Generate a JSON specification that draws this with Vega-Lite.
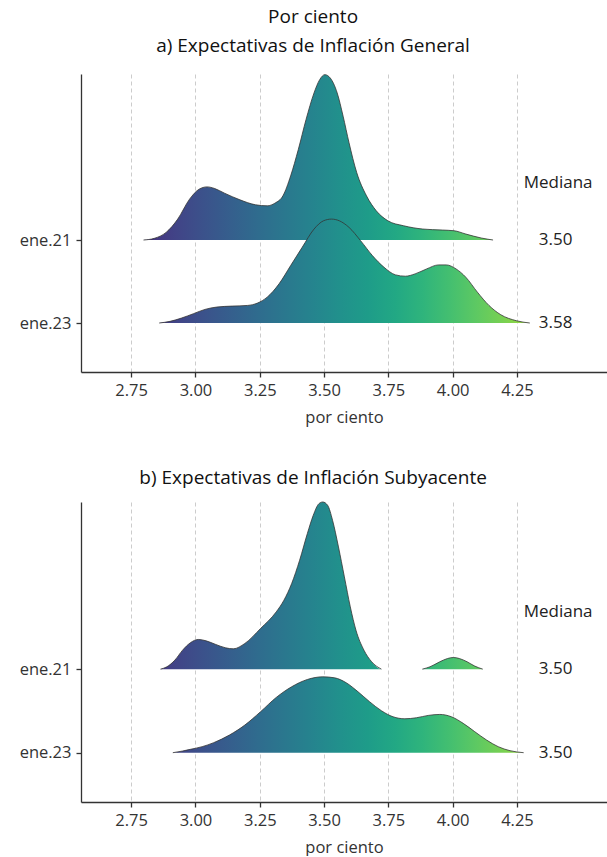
{
  "$schema": "https://vega.github.io/schema/vega-lite/v6.json",
  "background": "white",
  "padding": {"left": 19, "top": 8, "right": 0, "bottom": 0},
  "datasets": {
    "dens": [
      {"panel":"a","serie":"ene.21","tramo":1,"x":2.798,"h":0},
      {"panel":"a","serie":"ene.21","tramo":1,"x":2.840,"h":0.02},
      {"panel":"a","serie":"ene.21","tramo":1,"x":2.886,"h":0.092},
      {"panel":"a","serie":"ene.21","tramo":1,"x":2.931,"h":0.252},
      {"panel":"a","serie":"ene.21","tramo":1,"x":2.977,"h":0.492},
      {"panel":"a","serie":"ene.21","tramo":1,"x":3.014,"h":0.612},
      {"panel":"a","serie":"ene.21","tramo":1,"x":3.045,"h":0.64},
      {"panel":"a","serie":"ene.21","tramo":1,"x":3.075,"h":0.62},
      {"panel":"a","serie":"ene.21","tramo":1,"x":3.113,"h":0.564},
      {"panel":"a","serie":"ene.21","tramo":1,"x":3.173,"h":0.484},
      {"panel":"a","serie":"ene.21","tramo":1,"x":3.234,"h":0.424},
      {"panel":"a","serie":"ene.21","tramo":1,"x":3.279,"h":0.412},
      {"panel":"a","serie":"ene.21","tramo":1,"x":3.309,"h":0.444},
      {"panel":"a","serie":"ene.21","tramo":1,"x":3.340,"h":0.532},
      {"panel":"a","serie":"ene.21","tramo":1,"x":3.370,"h":0.772},
      {"panel":"a","serie":"ene.21","tramo":1,"x":3.400,"h":1.092},
      {"panel":"a","serie":"ene.21","tramo":1,"x":3.430,"h":1.452},
      {"panel":"a","serie":"ene.21","tramo":1,"x":3.461,"h":1.772},
      {"panel":"a","serie":"ene.21","tramo":1,"x":3.483,"h":1.932},
      {"panel":"a","serie":"ene.21","tramo":1,"x":3.503,"h":1.992},
      {"panel":"a","serie":"ene.21","tramo":1,"x":3.524,"h":1.952},
      {"panel":"a","serie":"ene.21","tramo":1,"x":3.551,"h":1.772},
      {"panel":"a","serie":"ene.21","tramo":1,"x":3.574,"h":1.492},
      {"panel":"a","serie":"ene.21","tramo":1,"x":3.597,"h":1.172},
      {"panel":"a","serie":"ene.21","tramo":1,"x":3.627,"h":0.812},
      {"panel":"a","serie":"ene.21","tramo":1,"x":3.665,"h":0.532},
      {"panel":"a","serie":"ene.21","tramo":1,"x":3.703,"h":0.352},
      {"panel":"a","serie":"ene.21","tramo":1,"x":3.748,"h":0.232},
      {"panel":"a","serie":"ene.21","tramo":1,"x":3.809,"h":0.172},
      {"panel":"a","serie":"ene.21","tramo":1,"x":3.884,"h":0.132},
      {"panel":"a","serie":"ene.21","tramo":1,"x":3.960,"h":0.12},
      {"panel":"a","serie":"ene.21","tramo":1,"x":4.005,"h":0.112},
      {"panel":"a","serie":"ene.21","tramo":1,"x":4.051,"h":0.072},
      {"panel":"a","serie":"ene.21","tramo":1,"x":4.111,"h":0.024},
      {"panel":"a","serie":"ene.21","tramo":1,"x":4.157,"h":0},

      {"panel":"a","serie":"ene.23","tramo":1,"x":2.859,"h":0},
      {"panel":"a","serie":"ene.23","tramo":1,"x":2.901,"h":0.02},
      {"panel":"a","serie":"ene.23","tramo":1,"x":2.946,"h":0.06},
      {"panel":"a","serie":"ene.23","tramo":1,"x":2.992,"h":0.112},
      {"panel":"a","serie":"ene.23","tramo":1,"x":3.037,"h":0.164},
      {"panel":"a","serie":"ene.23","tramo":1,"x":3.082,"h":0.192},
      {"panel":"a","serie":"ene.23","tramo":1,"x":3.143,"h":0.204},
      {"panel":"a","serie":"ene.23","tramo":1,"x":3.203,"h":0.212},
      {"panel":"a","serie":"ene.23","tramo":1,"x":3.241,"h":0.24},
      {"panel":"a","serie":"ene.23","tramo":1,"x":3.279,"h":0.312},
      {"panel":"a","serie":"ene.23","tramo":1,"x":3.325,"h":0.472},
      {"panel":"a","serie":"ene.23","tramo":1,"x":3.370,"h":0.692},
      {"panel":"a","serie":"ene.23","tramo":1,"x":3.415,"h":0.912},
      {"panel":"a","serie":"ene.23","tramo":1,"x":3.461,"h":1.132},
      {"panel":"a","serie":"ene.23","tramo":1,"x":3.498,"h":1.232},
      {"panel":"a","serie":"ene.23","tramo":1,"x":3.529,"h":1.252},
      {"panel":"a","serie":"ene.23","tramo":1,"x":3.559,"h":1.232},
      {"panel":"a","serie":"ene.23","tramo":1,"x":3.597,"h":1.152},
      {"panel":"a","serie":"ene.23","tramo":1,"x":3.642,"h":0.992},
      {"panel":"a","serie":"ene.23","tramo":1,"x":3.688,"h":0.812},
      {"panel":"a","serie":"ene.23","tramo":1,"x":3.733,"h":0.672},
      {"panel":"a","serie":"ene.23","tramo":1,"x":3.778,"h":0.58},
      {"panel":"a","serie":"ene.23","tramo":1,"x":3.816,"h":0.564},
      {"panel":"a","serie":"ene.23","tramo":1,"x":3.854,"h":0.592},
      {"panel":"a","serie":"ene.23","tramo":1,"x":3.899,"h":0.652},
      {"panel":"a","serie":"ene.23","tramo":1,"x":3.945,"h":0.70},
      {"panel":"a","serie":"ene.23","tramo":1,"x":3.975,"h":0.70},
      {"panel":"a","serie":"ene.23","tramo":1,"x":4.013,"h":0.652},
      {"panel":"a","serie":"ene.23","tramo":1,"x":4.051,"h":0.552},
      {"panel":"a","serie":"ene.23","tramo":1,"x":4.096,"h":0.372},
      {"panel":"a","serie":"ene.23","tramo":1,"x":4.141,"h":0.212},
      {"panel":"a","serie":"ene.23","tramo":1,"x":4.187,"h":0.10},
      {"panel":"a","serie":"ene.23","tramo":1,"x":4.247,"h":0.028},
      {"panel":"a","serie":"ene.23","tramo":1,"x":4.300,"h":0},

      {"panel":"b","serie":"ene.21","tramo":1,"x":2.864,"h":0},
      {"panel":"b","serie":"ene.21","tramo":1,"x":2.889,"h":0.028},
      {"panel":"b","serie":"ene.21","tramo":1,"x":2.920,"h":0.108},
      {"panel":"b","serie":"ene.21","tramo":1,"x":2.950,"h":0.227},
      {"panel":"b","serie":"ene.21","tramo":1,"x":2.980,"h":0.315},
      {"panel":"b","serie":"ene.21","tramo":1,"x":3.011,"h":0.355},
      {"panel":"b","serie":"ene.21","tramo":1,"x":3.041,"h":0.339},
      {"panel":"b","serie":"ene.21","tramo":1,"x":3.079,"h":0.295},
      {"panel":"b","serie":"ene.21","tramo":1,"x":3.117,"h":0.255},
      {"panel":"b","serie":"ene.21","tramo":1,"x":3.147,"h":0.243},
      {"panel":"b","serie":"ene.21","tramo":1,"x":3.192,"h":0.307},
      {"panel":"b","serie":"ene.21","tramo":1,"x":3.253,"h":0.486},
      {"panel":"b","serie":"ene.21","tramo":1,"x":3.314,"h":0.685},
      {"panel":"b","serie":"ene.21","tramo":1,"x":3.344,"h":0.825},
      {"panel":"b","serie":"ene.21","tramo":1,"x":3.374,"h":1.024},
      {"panel":"b","serie":"ene.21","tramo":1,"x":3.405,"h":1.303},
      {"panel":"b","serie":"ene.21","tramo":1,"x":3.435,"h":1.622},
      {"panel":"b","serie":"ene.21","tramo":1,"x":3.458,"h":1.841},
      {"panel":"b","serie":"ene.21","tramo":1,"x":3.480,"h":1.98},
      {"panel":"b","serie":"ene.21","tramo":1,"x":3.495,"h":2.0},
      {"panel":"b","serie":"ene.21","tramo":1,"x":3.514,"h":1.96},
      {"panel":"b","serie":"ene.21","tramo":1,"x":3.533,"h":1.781},
      {"panel":"b","serie":"ene.21","tramo":1,"x":3.556,"h":1.462},
      {"panel":"b","serie":"ene.21","tramo":1,"x":3.579,"h":1.104},
      {"panel":"b","serie":"ene.21","tramo":1,"x":3.602,"h":0.745},
      {"panel":"b","serie":"ene.21","tramo":1,"x":3.624,"h":0.466},
      {"panel":"b","serie":"ene.21","tramo":1,"x":3.655,"h":0.227},
      {"panel":"b","serie":"ene.21","tramo":1,"x":3.685,"h":0.088},
      {"panel":"b","serie":"ene.21","tramo":1,"x":3.723,"h":0},
      {"panel":"b","serie":"ene.21","tramo":2,"x":3.882,"h":0},
      {"panel":"b","serie":"ene.21","tramo":2,"x":3.912,"h":0.028},
      {"panel":"b","serie":"ene.21","tramo":2,"x":3.950,"h":0.088},
      {"panel":"b","serie":"ene.21","tramo":2,"x":3.980,"h":0.127},
      {"panel":"b","serie":"ene.21","tramo":2,"x":4.003,"h":0.139},
      {"panel":"b","serie":"ene.21","tramo":2,"x":4.026,"h":0.127},
      {"panel":"b","serie":"ene.21","tramo":2,"x":4.056,"h":0.088},
      {"panel":"b","serie":"ene.21","tramo":2,"x":4.086,"h":0.036},
      {"panel":"b","serie":"ene.21","tramo":2,"x":4.117,"h":0},

      {"panel":"b","serie":"ene.23","tramo":1,"x":2.912,"h":0},
      {"panel":"b","serie":"ene.23","tramo":1,"x":2.950,"h":0.020},
      {"panel":"b","serie":"ene.23","tramo":1,"x":2.980,"h":0.040},
      {"panel":"b","serie":"ene.23","tramo":1,"x":3.026,"h":0.072},
      {"panel":"b","serie":"ene.23","tramo":1,"x":3.071,"h":0.120},
      {"panel":"b","serie":"ene.23","tramo":1,"x":3.132,"h":0.211},
      {"panel":"b","serie":"ene.23","tramo":1,"x":3.192,"h":0.331},
      {"panel":"b","serie":"ene.23","tramo":1,"x":3.253,"h":0.490},
      {"panel":"b","serie":"ene.23","tramo":1,"x":3.314,"h":0.661},
      {"panel":"b","serie":"ene.23","tramo":1,"x":3.374,"h":0.789},
      {"panel":"b","serie":"ene.23","tramo":1,"x":3.435,"h":0.876},
      {"panel":"b","serie":"ene.23","tramo":1,"x":3.495,"h":0.908},
      {"panel":"b","serie":"ene.23","tramo":1,"x":3.541,"h":0.896},
      {"panel":"b","serie":"ene.23","tramo":1,"x":3.586,"h":0.837},
      {"panel":"b","serie":"ene.23","tramo":1,"x":3.632,"h":0.729},
      {"panel":"b","serie":"ene.23","tramo":1,"x":3.677,"h":0.610},
      {"panel":"b","serie":"ene.23","tramo":1,"x":3.723,"h":0.502},
      {"panel":"b","serie":"ene.23","tramo":1,"x":3.768,"h":0.430},
      {"panel":"b","serie":"ene.23","tramo":1,"x":3.814,"h":0.406},
      {"panel":"b","serie":"ene.23","tramo":1,"x":3.859,"h":0.418},
      {"panel":"b","serie":"ene.23","tramo":1,"x":3.905,"h":0.446},
      {"panel":"b","serie":"ene.23","tramo":1,"x":3.950,"h":0.458},
      {"panel":"b","serie":"ene.23","tramo":1,"x":3.995,"h":0.430},
      {"panel":"b","serie":"ene.23","tramo":1,"x":4.041,"h":0.351},
      {"panel":"b","serie":"ene.23","tramo":1,"x":4.086,"h":0.251},
      {"panel":"b","serie":"ene.23","tramo":1,"x":4.132,"h":0.151},
      {"panel":"b","serie":"ene.23","tramo":1,"x":4.177,"h":0.072},
      {"panel":"b","serie":"ene.23","tramo":1,"x":4.223,"h":0.024},
      {"panel":"b","serie":"ene.23","tramo":1,"x":4.276,"h":0}
    ],
    "med": [
      {"panel":"a","serie":"ene.21","mediana":"3.50"},
      {"panel":"a","serie":"ene.23","mediana":"3.58"},
      {"panel":"b","serie":"ene.21","mediana":"3.50"},
      {"panel":"b","serie":"ene.23","mediana":"3.50"}
    ]
  },
  "vconcat": [
    {
      "title": {"text": ["Por ciento", "a) Expectativas de Inflación General"], "lineHeight": 29, "offset": 17},
      "width": 526,
      "height": 298,
      "encoding": {
        "x": {"field": "x", "type": "quantitative",
          "scale": {"domain": [2.555, 4.6], "nice": false, "zero": false},
          "axis": {"values": [2.75, 3.0, 3.25, 3.5, 3.75, 4.0, 4.25], "format": ".2f", "title": "por ciento", "grid": true, "gridDash": [4, 3], "gridColor": "#cccccc", "gridWidth": 1, "labelPadding": 5, "titlePadding": 11}},
        "y": {"field": "top", "type": "quantitative",
          "scale": {"domain": [-0.59, 3.0], "nice": false, "zero": false},
          "axis": {"values": [0, 1], "labelExpr": "datum.value == 1 ? 'ene.21' : 'ene.23'", "title": null, "grid": false, "labelPadding": 5}}
      },
      "layer": [
        {
          "data": {"name": "dens"},
          "transform": [{"filter": "datum.panel == 'a' && datum.serie == 'ene.21'"}, {"calculate": "1", "as": "base"}, {"calculate": "datum.base + datum.h", "as": "top"}],
          "mark": {"type": "area", "interpolate": "monotone", "fill": {"gradient": "linear", "x1": 0, "y1": 0, "x2": 1, "y2": 0, "stops": [
            {"offset": 0, "color": "#473079"}, {"offset": 0.015, "color": "#463480"}, {"offset": 0.094, "color": "#414487"}, {"offset": 0.172, "color": "#3b528b"}, {"offset": 0.25, "color": "#355f8d"}, {"offset": 0.329, "color": "#2f6c8e"}, {"offset": 0.407, "color": "#2a788e"}, {"offset": 0.485, "color": "#25848e"}, {"offset": 0.564, "color": "#21918c"}, {"offset": 0.642, "color": "#1e9c89"}, {"offset": 0.72, "color": "#22a884"}, {"offset": 0.798, "color": "#2fb47c"}, {"offset": 0.876, "color": "#44bf70"}, {"offset": 0.955, "color": "#5ec962"}, {"offset": 1, "color": "#70ce58"}]}},
          "encoding": {"y2": {"field": "base"}}
        },
        {
          "data": {"name": "dens"},
          "transform": [{"filter": "datum.panel == 'a' && datum.serie == 'ene.21'"}, {"calculate": "1 + datum.h", "as": "top"}],
          "mark": {"type": "line", "interpolate": "monotone", "stroke": "#333333", "strokeWidth": 0.8},
          "encoding": {"detail": {"field": "tramo"}}
        },
        {
          "data": {"name": "dens"},
          "transform": [{"filter": "datum.panel == 'a' && datum.serie == 'ene.23'"}, {"calculate": "0", "as": "base"}, {"calculate": "datum.base + datum.h", "as": "top"}],
          "mark": {"type": "area", "interpolate": "monotone", "fill": {"gradient": "linear", "x1": 0, "y1": 0, "x2": 1, "y2": 0, "stops": [
            {"offset": 0, "color": "#443b84"}, {"offset": 0.046, "color": "#414487"}, {"offset": 0.12, "color": "#3b528b"}, {"offset": 0.194, "color": "#355f8d"}, {"offset": 0.268, "color": "#2f6c8e"}, {"offset": 0.341, "color": "#2a788e"}, {"offset": 0.415, "color": "#25848e"}, {"offset": 0.489, "color": "#21918c"}, {"offset": 0.563, "color": "#1e9c89"}, {"offset": 0.637, "color": "#22a884"}, {"offset": 0.711, "color": "#2fb47c"}, {"offset": 0.784, "color": "#44bf70"}, {"offset": 0.858, "color": "#5ec962"}, {"offset": 0.932, "color": "#7ad151"}, {"offset": 1, "color": "#9ad93c"}]}},
          "encoding": {"y2": {"field": "base"}}
        },
        {
          "data": {"name": "dens"},
          "transform": [{"filter": "datum.panel == 'a' && datum.serie == 'ene.23'"}, {"calculate": "datum.h", "as": "top"}],
          "mark": {"type": "line", "interpolate": "monotone", "stroke": "#333333", "strokeWidth": 0.8},
          "encoding": {"detail": {"field": "tramo"}}
        },
        {
          "data": {"name": "med"},
          "transform": [{"filter": "datum.panel == 'a'"}, {"calculate": "datum.serie == 'ene.21' ? 1 : 0", "as": "top"}, {"calculate": "4.4", "as": "x"}],
          "mark": {"type": "text", "fontSize": 17, "fill": "#222222", "align": "center", "baseline": "middle"},
          "encoding": {"text": {"field": "mediana"}}
        },
        {
          "data": {"name": "med"},
          "transform": [{"filter": "datum.panel == 'a' && datum.serie == 'ene.21'"}, {"calculate": "1.69", "as": "top"}, {"calculate": "4.41", "as": "x"}, {"calculate": "'Mediana'", "as": "etiqueta"}],
          "mark": {"type": "text", "fontSize": 17, "fill": "#222222", "align": "center", "baseline": "middle"},
          "encoding": {"text": {"field": "etiqueta"}}
        }
      ]
    },
    {
      "title": {"text": "b) Expectativas de Inflación Subyacente", "offset": 12},
      "width": 526,
      "height": 300,
      "encoding": {
        "x": {"field": "x", "type": "quantitative",
          "scale": {"domain": [2.555, 4.6], "nice": false, "zero": false},
          "axis": {"values": [2.75, 3.0, 3.25, 3.5, 3.75, 4.0, 4.25], "format": ".2f", "title": "por ciento", "grid": true, "gridDash": [4, 3], "gridColor": "#cccccc", "gridWidth": 1, "labelPadding": 5, "titlePadding": 11}},
        "y": {"field": "top", "type": "quantitative",
          "scale": {"domain": [-0.59, 3.0], "nice": false, "zero": false},
          "axis": {"values": [0, 1], "labelExpr": "datum.value == 1 ? 'ene.21' : 'ene.23'", "title": null, "grid": false, "labelPadding": 5}}
      },
      "layer": [
        {
          "data": {"name": "dens"},
          "transform": [{"filter": "datum.panel == 'b' && datum.serie == 'ene.21'"}, {"calculate": "1", "as": "base"}, {"calculate": "datum.base + datum.h", "as": "top"}],
          "mark": {"type": "area", "interpolate": "monotone", "fill": {"gradient": "linear", "x1": 0, "y1": 0, "x2": 1, "y2": 0, "stops": [
            {"offset": 0, "color": "#443b84"}, {"offset": 0.049, "color": "#414487"}, {"offset": 0.134, "color": "#3b528b"}, {"offset": 0.219, "color": "#355f8d"}, {"offset": 0.304, "color": "#2f6c8e"}, {"offset": 0.389, "color": "#2a788e"}, {"offset": 0.473, "color": "#25848e"}, {"offset": 0.559, "color": "#21918c"}, {"offset": 0.643, "color": "#1e9c89"}, {"offset": 0.729, "color": "#22a884"}, {"offset": 0.813, "color": "#2fb47c"}, {"offset": 0.898, "color": "#44bf70"}, {"offset": 0.983, "color": "#5ec962"}, {"offset": 1, "color": "#63ca5f"}]}},
          "encoding": {"y2": {"field": "base"}}
        },
        {
          "data": {"name": "dens"},
          "transform": [{"filter": "datum.panel == 'b' && datum.serie == 'ene.21'"}, {"calculate": "1 + datum.h", "as": "top"}],
          "mark": {"type": "line", "interpolate": "monotone", "stroke": "#333333", "strokeWidth": 0.8},
          "encoding": {"detail": {"field": "tramo"}}
        },
        {
          "data": {"name": "dens"},
          "transform": [{"filter": "datum.panel == 'b' && datum.serie == 'ene.23'"}, {"calculate": "0", "as": "base"}, {"calculate": "datum.base + datum.h", "as": "top"}],
          "mark": {"type": "area", "interpolate": "monotone", "fill": {"gradient": "linear", "x1": 0, "y1": 0, "x2": 1, "y2": 0, "stops": [
            {"offset": 0, "color": "#424286"}, {"offset": 0.01, "color": "#414487"}, {"offset": 0.088, "color": "#3b528b"}, {"offset": 0.166, "color": "#355f8d"}, {"offset": 0.244, "color": "#2f6c8e"}, {"offset": 0.322, "color": "#2a788e"}, {"offset": 0.4, "color": "#25848e"}, {"offset": 0.478, "color": "#21918c"}, {"offset": 0.556, "color": "#1e9c89"}, {"offset": 0.634, "color": "#22a884"}, {"offset": 0.712, "color": "#2fb47c"}, {"offset": 0.79, "color": "#44bf70"}, {"offset": 0.868, "color": "#5ec962"}, {"offset": 0.946, "color": "#7ad151"}, {"offset": 1, "color": "#93d741"}]}},
          "encoding": {"y2": {"field": "base"}}
        },
        {
          "data": {"name": "dens"},
          "transform": [{"filter": "datum.panel == 'b' && datum.serie == 'ene.23'"}, {"calculate": "datum.h", "as": "top"}],
          "mark": {"type": "line", "interpolate": "monotone", "stroke": "#333333", "strokeWidth": 0.8},
          "encoding": {"detail": {"field": "tramo"}}
        },
        {
          "data": {"name": "med"},
          "transform": [{"filter": "datum.panel == 'b'"}, {"calculate": "datum.serie == 'ene.21' ? 1 : 0", "as": "top"}, {"calculate": "4.4", "as": "x"}],
          "mark": {"type": "text", "fontSize": 17, "fill": "#222222", "align": "center", "baseline": "middle"},
          "encoding": {"text": {"field": "mediana"}}
        },
        {
          "data": {"name": "med"},
          "transform": [{"filter": "datum.panel == 'b' && datum.serie == 'ene.21'"}, {"calculate": "1.685", "as": "top"}, {"calculate": "4.41", "as": "x"}, {"calculate": "'Mediana'", "as": "etiqueta"}],
          "mark": {"type": "text", "fontSize": 17, "fill": "#222222", "align": "center", "baseline": "middle"},
          "encoding": {"text": {"field": "etiqueta"}}
        }
      ]
    }
  ],
  "spacing": 43,
  "config": {
    "font": "Open Sans",
    "view": {"stroke": null},
    "text": {"font": "Open Sans"},
    "axis": {"labelFont": "Open Sans", "titleFont": "Open Sans", "labelFontSize": 16.5, "titleFontSize": 16.5, "labelColor": "#333333", "titleColor": "#333333", "titleFontWeight": "normal", "domainColor": "#333333", "tickColor": "#333333", "domainWidth": 1.3, "tickWidth": 1.3, "tickSize": 5},
    "title": {"font": "Open Sans", "fontSize": 19, "fontWeight": "normal", "color": "#111111", "anchor": "middle", "frame": "bounds"}
  }
}
